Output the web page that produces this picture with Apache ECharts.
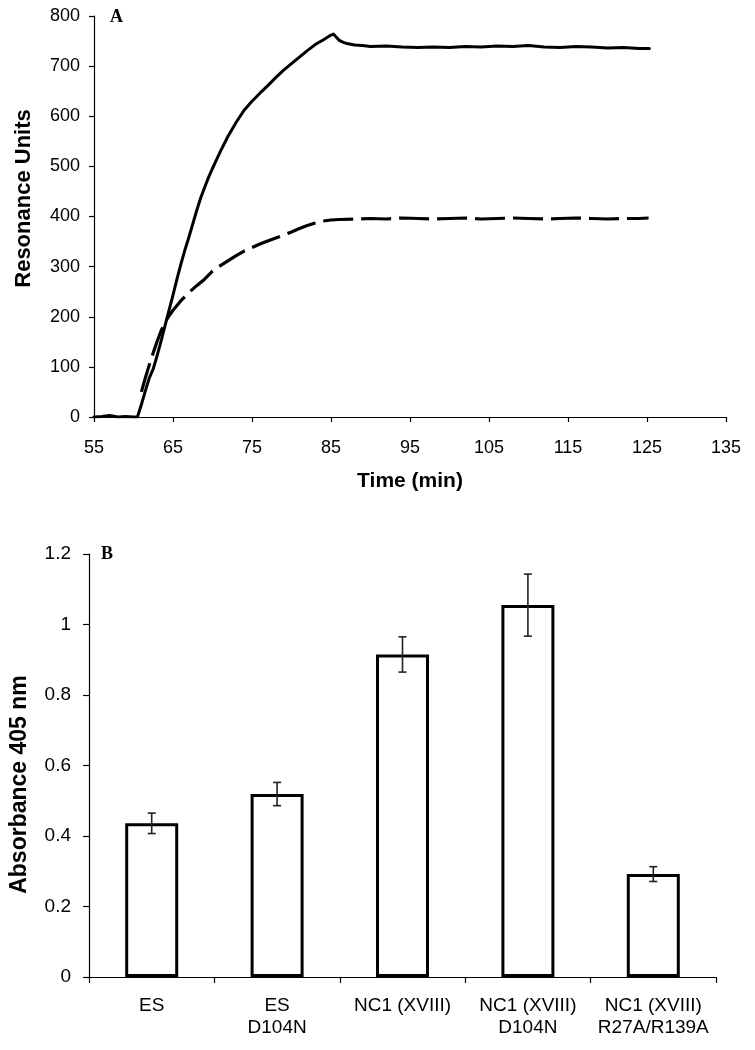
<!DOCTYPE html>
<html><head><meta charset="utf-8">
<script src="https://cdn.jsdelivr.net/npm/echarts@6/dist/echarts.min.js"></script>
<style>html,body{margin:0;padding:0;background:#fff}#c{width:755px;height:1050px}</style>
</head><body><div id="c"></div>
<script>
// ---- Panel A: SPR sensorgram ----
const solidTime = [55,56,57,58,59,60,60.5,61,61.5,62,62.5,63,63.5,64,64.5,65,65.5,66,66.5,67,67.5,68,68.5,69,69.5,70,71,72,73,74,75,76,77,78,79,80,81,82,83,84,85,85.3,86,86.5,87,88,89,90,92,94,96,98,100,102,104,106,108,110,112,114,116,118,120,122,124,125.3];
const solidRU   = [0,1,3,0,1,0,0,25,52,78,96,123,152,183,213,243,275,305,333,358,385,412,437,458,478,496,530,561,588,612,630,646,661,677,692,705,718,731,743,752,762,764,752,748,745,742,741,739,740,738,737,738,737,739,738,740,739,741,738,737,739,738,736,737,735,735];
const dashTime  = [61,61.5,62,62.5,63,63.5,64,64.5,65,66,67,68,69,70,71,72,73,74,75,76,77,78,79,80,81,82,83,84,85,86,88,90,92,94,96,98,100,102,104,106,108,110,112,114,116,118,120,122,124,125.2];
const dashRU    = [50,78,104,128,151,172,189,202,213,232,248,262,275,291,302,312,322,331,338,345,351,357,363,369,376,382,387,391,393,394,395,396,395,397,396,395,396,397,395,396,397,396,395,396,397,396,395,396,396,397];
const timeTicks = [55,65,75,85,95,105,115,125,135];

// ---- Panel B: absorbance bars ----
const categories = ['ES','ES\nD104N','NC1 (XVIII)','NC1 (XVIII)\nD104N','NC1 (XVIII)\nR27A/R139A'];
const absorbance = [0.436,0.519,0.915,1.055,0.292];
const absError   = [0.029,0.033,0.050,0.088,0.021];

const FONT = 'Liberation Sans, Arial, sans-serif';
const axisLine = {show:true, lineStyle:{color:'#000', width:1.2}};
const axisTick = {show:true, length:5, lineStyle:{color:'#000', width:1.2}};

const chart = echarts.init(document.getElementById('c'), null, {renderer:'canvas'});
chart.setOption({
  animation:false,
  backgroundColor:'#fff',
  textStyle:{fontFamily:FONT},
  grid:[
    {left:94, top:16, width:632, height:401},
    {left:88, top:554, width:628, height:423}
  ],
  xAxis:[
    {type:'value', gridIndex:0, min:55, max:135, interval:5,
     axisLine:axisLine,
     axisTick:Object.assign({}, axisTick, {customValues:timeTicks}),
     axisLabel:{customValues:timeTicks, fontSize:18, color:'#000', margin:22, fontFamily:FONT},
     splitLine:{show:false},
     name:'Time (min)', nameLocation:'middle', nameGap:54,
     nameTextStyle:{fontSize:21, fontWeight:'bold', color:'#000', fontFamily:FONT}},
    {type:'category', gridIndex:1, data:categories,
     axisLine:axisLine,
     axisTick:{show:true, length:6, alignWithLabel:false, lineStyle:{color:'#000', width:1.2}},
     axisLabel:{interval:0, fontSize:19, lineHeight:22, color:'#000', margin:18, fontFamily:FONT},
     splitLine:{show:false}}
  ],
  yAxis:[
    {type:'value', gridIndex:0, min:0, max:800, interval:100,
     axisLine:axisLine, axisTick:axisTick,
     axisLabel:{fontSize:18, color:'#000', margin:14, fontFamily:FONT},
     splitLine:{show:false},
     name:'Resonance Units', nameLocation:'middle', nameGap:59,
     nameTextStyle:{fontSize:22, fontWeight:'bold', color:'#000', fontFamily:FONT, padding:[0,0,0,36]}},
    {type:'value', gridIndex:1, min:0, max:1.2, interval:0.2,
     axisLine:axisLine, axisTick:{show:true, length:6, lineStyle:{color:'#000', width:1.2}},
     axisLabel:{fontSize:19, color:'#000', margin:18, fontFamily:FONT},
     splitLine:{show:false},
     name:'Absorbance 405 nm', nameLocation:'middle', nameGap:58,
     nameTextStyle:{fontSize:23, fontWeight:'bold', color:'#000', fontFamily:FONT, padding:[0,38,0,0]}}
  ],
  graphic:[
    {type:'text', left:110, top:8, style:{text:'A', font:'bold 18px "Liberation Serif", serif', fill:'#000'}},
    {type:'text', left:101, top:545, style:{text:'B', font:'bold 18px "Liberation Serif", serif', fill:'#000'}}
  ],
  series:[
    {type:'line', xAxisIndex:0, yAxisIndex:0, showSymbol:false, symbol:'none',
     data:solidTime.map((t,i)=>[t, solidRU[i]]),
     lineStyle:{color:'#000', width:3, join:'round', cap:'round'}},
    {type:'line', xAxisIndex:0, yAxisIndex:0, showSymbol:false, symbol:'none',
     data:dashTime.map((t,i)=>[t, dashRU[i]]),
     lineStyle:{color:'#000', width:3.2, type:[30,8], join:'round'}},
    {type:'bar', xAxisIndex:1, yAxisIndex:1, data:absorbance, barWidth:53, z:2,
     itemStyle:{color:'#fff', borderColor:'#000', borderWidth:3}},
    {type:'custom', xAxisIndex:1, yAxisIndex:1, z:5,
     data:absorbance.map((v,i)=>[i, v-absError[i], v+absError[i]]),
     encode:{x:0, y:[1,2]},
     renderItem:function(params, api){
       const i = api.value(0);
       const lo = api.coord([i, api.value(1)]);
       const hi = api.coord([i, api.value(2)]);
       const w = 4;
       const st = {stroke:'#222', lineWidth:1.6};
       return {type:'group', children:[
         {type:'line', shape:{x1:lo[0], y1:lo[1], x2:hi[0], y2:hi[1]}, style:st},
         {type:'line', shape:{x1:lo[0]-w, y1:lo[1], x2:lo[0]+w, y2:lo[1]}, style:st},
         {type:'line', shape:{x1:hi[0]-w, y1:hi[1], x2:hi[0]+w, y2:hi[1]}, style:st}
       ]};
     }}
  ]
});
</script></body></html>
